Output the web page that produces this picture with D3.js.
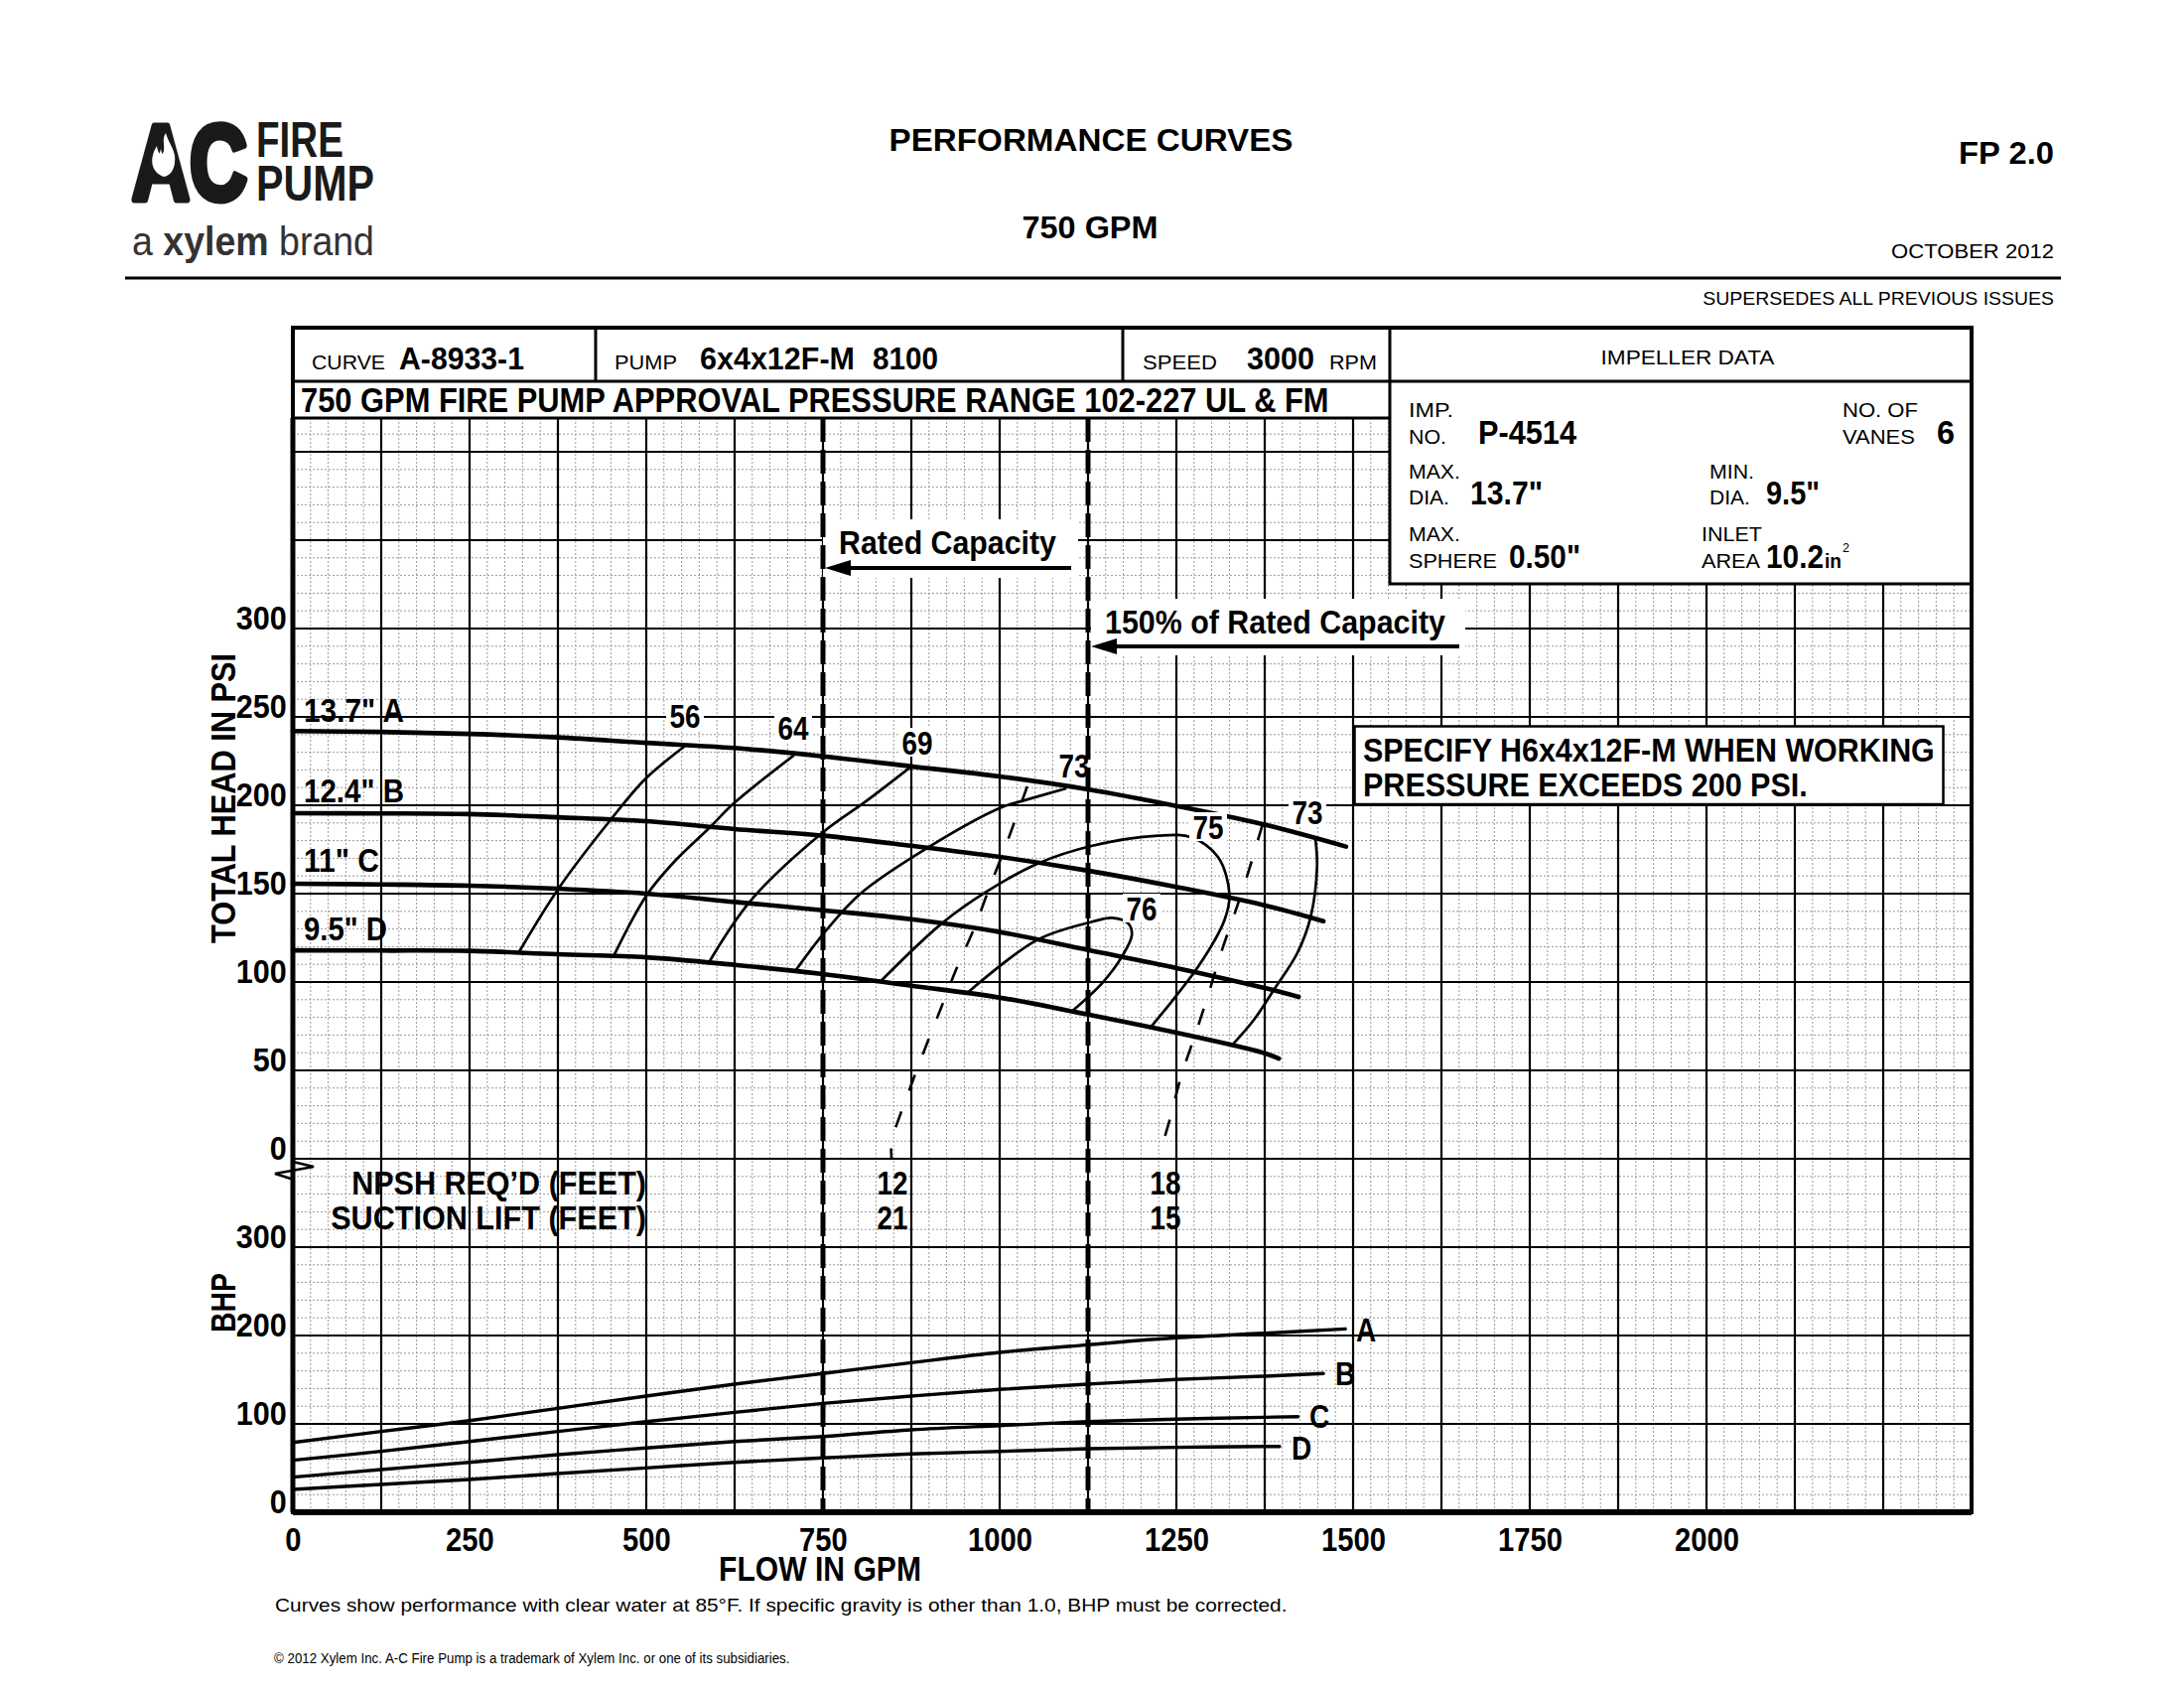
<!DOCTYPE html>
<html><head><meta charset="utf-8">
<script src="https://cdn.jsdelivr.net/npm/d3@7/dist/d3.min.js"></script>
<style>body{margin:0;background:#fff}svg{display:block}text{font-family:"Liberation Sans",Arial,Helvetica,sans-serif;fill:#000}</style>
</head><body>
<script>
// ---------------- DATA ----------------
const xTicks = [0,250,500,750,1000,1250,1500,1750,2000];
const headTicks = [0,50,100,150,200,250,300];
const bhpTicks = [0,100,200,300];
const ratedFlows = [750,1125];

// head curves [gpm, psi]
const headA = [[0,242],[125,241.5],[250,240.4],[375,238.4],[500,235.3],[625,232.4],[750,227.7],[875,222],[1000,216.3],[1125,209],[1250,199.6],[1375,189],[1490,176.6]];
const headB = [[0,195.5],[125,195.4],[250,195],[375,193.2],[500,191],[625,186.5],[750,182.8],[875,177.1],[1000,170.8],[1125,163],[1250,153.8],[1375,143.4],[1458,134.4]];
const headC = [[0,155.6],[125,155.2],[250,154.5],[375,152.8],[500,150],[625,145.3],[750,140.6],[875,135.5],[1000,128.3],[1125,118.1],[1250,107.9],[1375,96.6],[1423,91.6]];
const headD = [[0,117.9],[125,117.8],[250,117.6],[375,115.7],[500,114],[625,109.7],[750,104.5],[875,97.9],[1000,91.2],[1125,81.6],[1250,71.3],[1375,59.7],[1395,56.7]];
const headLabels = ['13.7" A','12.4" B','11" C','9.5" D'];

// efficiency iso-lines [gpm, psi]
const eff56 = [[553,233],[499,215],[450,192],[376,153],[320,117]];
const eff64 = [[708,228],[625,201.5],[590,187.5],[541,168.7],[501,149.4],[454,114.8]];
const eff69 = [[875,222],[810,202],[750,184.7],[648,146.2],[588,110.7]];
const eff73L = [[1093,209.4],[1037,203],[1002,198.7],[899,176.2],[803,150],[751,127.5],[712,106.9]];
const eff75 = [[833,101],[918,133.1],[981,151],[1053,166.9],[1131,177.1],[1224,182.8],[1271,181.9],[1309,170.6],[1325,150],[1318,135],[1281,108.8],[1215,75.1]];
const eff76 = [[957,94.8],[1053,123.8],[1131,134.1],[1159,136.3],[1182,133.1],[1187,126.6],[1173,114.4],[1145,99.4],[1105,84.4]];
const eff73R = [[1447,180],[1449,165],[1440,136.9],[1421,116.3],[1388,95.7],[1360,78.8],[1330,64.8]];
const effLabels = ["56","64","69","73","75","73","76"];

// NPSH dashed curves [gpm, psi]
const npsh12 = [[1039,210.7],[1008,176.4],[986,153.9],[965,131.5],[938,106.7],[916,84.3],[896,64],[875,42],[854,19],[847,10.7],[847,0]];
const npsh18 = [[1372,189.3],[1351,161.2],[1334,140.6],[1313,116.3],[1294.5,92],[1276,69.5],[1257,47],[1241,22.6],[1233,10.5],[1233,0]];
const npshLabels = [["12","21",847],["18","15",1233]];

// BHP curves [gpm, bhp]
const bhpA = [[0,79],[125,91.4],[250,103.7],[375,117.6],[500,131.5],[625,145],[750,157],[875,169.3],[1000,180.9],[1125,189.5],[1250,197.4],[1375,202.6],[1489,207.5]];
const bhpB = [[0,58.8],[125,68.9],[250,80.1],[375,91.4],[500,102.6],[625,113],[750,123.2],[875,131.5],[1000,139],[1125,145],[1250,150.2],[1375,154],[1458,157]];
const bhpC = [[0,39.7],[125,48.3],[250,56.5],[375,65.2],[500,72.7],[625,80],[750,85.7],[875,93.3],[1000,98.1],[1125,102.6],[1250,105.3],[1375,107.5],[1422,108.2]];
const bhpD = [[0,25.8],[125,31.5],[250,37.1],[375,43.8],[500,50.2],[625,56.5],[750,61.5],[875,66],[1000,68.9],[1125,71.9],[1250,73.4],[1375,74.5],[1396,74.5]];
const bhpLabels = ["A","B","C","D"];

// ---------------- DRAW ----------------
const W=2200,H=1700;
const svg=d3.select('body').append('svg').attr('width',W).attr('height',H);
svg.append('rect').attr('width',W).attr('height',H).attr('fill','#fff');

const L=295,R=1986,TOP=330,GT=421,B=1523;
const x=d3.scaleLinear().domain([0,2375]).range([L,R]);
const yH=d3.scaleLinear().domain([0,300]).range([1167,633]);
const yB=d3.scaleLinear().domain([0,400]).range([B,1167]);

// text helper: condensed via horizontal scale transform so boxes stay true
function T(g,xx,yy,s,o){
  o=o||{};
  const t=g.append('text').attr('x',0).attr('y',0).text(s)
    .attr('font-size',o.size||20).attr('font-weight',o.weight||'normal')
    .attr('text-anchor',o.anchor||'start');
  if(o.fill) t.style('fill',o.fill);
  let sx=1;
  const len=t.node().getComputedTextLength();
  if(o.w) sx=o.w/len; else if(o.sx) sx=o.sx;
  t.attr('transform',`translate(${xx},${yy})${o.rot?` rotate(${o.rot})`:''} scale(${sx},1)`);
  return t;
}

// grid
const grid=svg.append('g');
const minorX=d3.range(0,2375.1,25), majorX=d3.range(0,2375.1,125);
const yTopB=yB.invert(GT);
const minorY=d3.range(0,yTopB,20), majorY=d3.range(0,yTopB,100);
grid.selectAll('.mx').data(minorX.filter(v=>v%125!==0)).join('line')
  .attr('x1',d=>x(d)).attr('x2',d=>x(d)).attr('y1',GT).attr('y2',B)
  .attr('stroke','#9a9a9a').attr('stroke-width',1).attr('stroke-dasharray','2,2');
grid.selectAll('.my').data(minorY.filter(v=>v%100!==0)).join('line')
  .attr('y1',d=>yB(d)).attr('y2',d=>yB(d)).attr('x1',L).attr('x2',R)
  .attr('stroke','#9a9a9a').attr('stroke-width',1).attr('stroke-dasharray','2,2');
grid.selectAll('.Mx').data(majorX).join('line')
  .attr('x1',d=>x(d)).attr('x2',d=>x(d)).attr('y1',GT).attr('y2',B)
  .attr('stroke','#000').attr('stroke-width',2.2);
grid.selectAll('.My').data(majorY).join('line')
  .attr('y1',d=>yB(d)).attr('y2',d=>yB(d)).attr('x1',L).attr('x2',R)
  .attr('stroke','#000').attr('stroke-width',2.2);

// white label boxes for rated capacity annotations
svg.append('rect').attr('x',829).attr('y',523).attr('width',257).attr('height',59).attr('fill','#fff');
svg.append('rect').attr('x',x(1125)+3).attr('y',603).attr('width',377).attr('height',57).attr('fill','#fff');

const lineH=d3.line().x(d=>x(d[0])).y(d=>yH(d[1])).curve(d3.curveCatmullRom.alpha(0.5));
const lineB=d3.line().x(d=>x(d[0])).y(d=>yB(d[1])).curve(d3.curveCatmullRom.alpha(0.5));

const curves=svg.append('g').attr('fill','none').attr('stroke','#000').attr('stroke-linecap','round');
[headA,headB,headC,headD].forEach(c=>curves.append('path').attr('d',lineH(c)).attr('stroke-width',4.6));
[eff56,eff64,eff69,eff73L,eff75,eff76,eff73R].forEach(c=>curves.append('path').attr('d',lineH(c)).attr('stroke-width',2.7));
[npsh12,npsh18].forEach(c=>curves.append('path').attr('d',lineH(c)).attr('stroke-width',2.6).attr('stroke-dasharray','17,22').attr('stroke-linecap','butt'));
[bhpA,bhpB,bhpC,bhpD].forEach(c=>curves.append('path').attr('d',lineB(c)).attr('stroke-width',3.4));

// efficiency labels with white background
const effPos=[[690,733],[799,745],[924,760],[1082,783],[1217,845],[1317,830],[1150,927]];
const lab=svg.append('g');
effLabels.forEach((s,i)=>{
  const [px,py]=effPos[i];
  lab.append('rect').attr('x',px-19).attr('y',py-27).attr('width',38).attr('height',29).attr('fill','#fff');
  T(lab,px,py,s,{size:33,weight:'bold',anchor:'middle',w:31});
});

// rated capacity dashed verticals
svg.selectAll('.rated').data(ratedFlows).join('line')
  .attr('x1',d=>x(d)).attr('x2',d=>x(d)).attr('y1',GT).attr('y2',B)
  .attr('stroke','#000').attr('stroke-width',5).attr('stroke-dasharray','24,8');

// arrows
function arrow(x1,x2,y){
  svg.append('line').attr('x1',x1+20).attr('x2',x2).attr('y1',y).attr('y2',y).attr('stroke','#000').attr('stroke-width',4);
  svg.append('path').attr('d',`M${x1},${y} L${x1+26},${y-8} L${x1+26},${y+8} Z`).attr('fill','#000');
}
arrow(x(750)+2,1079,572);
arrow(x(1125)+3,1470,651);
T(svg,845,558,'Rated Capacity',{size:34,weight:'bold',w:219});
T(svg,1113,638,'150% of Rated Capacity',{size:34,weight:'bold',w:343});

// head curve labels
const hlY=[727,808,878,947], hlW=[101,101,76,84];
headLabels.forEach((s,i)=>T(svg,306,hlY[i],s,{size:33,weight:'bold',w:hlW[i]}));

// NPSH labels
npshLabels.forEach(([a,b,g])=>{
  T(svg,x(g)+1,1203,a,{size:33,weight:'bold',anchor:'middle',w:31});
  T(svg,x(g)+1,1238,b,{size:33,weight:'bold',anchor:'middle',w:31});
});
T(svg,651,1203,'NPSH REQ\u2019D (FEET)',{size:33,weight:'bold',anchor:'end',w:297});
T(svg,651,1238,'SUCTION LIFT (FEET)',{size:33,weight:'bold',anchor:'end',w:318});

// BHP labels
const bl=[[1366,1351],[1345,1395],[1319,1438],[1301,1470]];
bhpLabels.forEach((s,i)=>T(svg,bl[i][0],bl[i][1],s,{size:33,weight:'bold',sx:0.85}));

// SPECIFY box
svg.append('rect').attr('x',1364.5).attr('y',731.5).attr('width',593).attr('height',78.5).attr('fill','#fff').attr('stroke','#000').attr('stroke-width',2.5);
T(svg,1373,767,'SPECIFY H6x4x12F-M WHEN WORKING',{size:34,weight:'bold',w:576});
T(svg,1373,802,'PRESSURE EXCEEDS 200 PSI.',{size:34,weight:'bold',w:448});

// axes: tick labels via d3 axes
const axX=svg.append('g').attr('transform',`translate(0,${B})`)
  .call(d3.axisBottom(x).tickValues(xTicks).tickSize(0).tickPadding(15).tickFormat(d3.format('d')));
axX.select('.domain').remove();
axX.selectAll('text').attr('font-size',34).attr('font-weight','bold').style('font-family','"Liberation Sans",Arial,sans-serif').style('fill','#000')
  .attr('transform','scale(0.86,1)').attr('x',function(){return 0;});

function yAxis(scale,ticks){
  const a=svg.append('g').attr('transform',`translate(${L},0)`)
    .call(d3.axisLeft(scale).tickValues(ticks).tickSize(0).tickPadding(6).tickFormat(d3.format('d')));
  a.select('.domain').remove();
  a.selectAll('text').attr('dy','0').attr('font-size',34).attr('font-weight','bold').style('font-family','"Liberation Sans",Arial,sans-serif').style('fill','#000')
    .attr('x',-7).attr('transform','scale(0.9,1)');
}
yAxis(yH,headTicks);
yAxis(yB,bhpTicks);

// axis break zigzag
svg.append('polyline').attr('points','295,1170 316,1175 277,1182 296,1188').attr('fill','none').attr('stroke','#000').attr('stroke-width',2.5);

// axis titles
T(svg,237,804,'TOTAL HEAD IN PSI',{size:35,weight:'bold',anchor:'middle',rot:-90,w:292});
T(svg,237,1312,'BHP',{size:35,weight:'bold',anchor:'middle',rot:-90,w:60});
T(svg,826,1592,'FLOW IN GPM',{size:35,weight:'bold',anchor:'middle',w:204});

// header table (white)
svg.append('rect').attr('x',L).attr('y',TOP).attr('width',1400-L).attr('height',GT-TOP).attr('fill','#fff');
svg.append('rect').attr('x',1400).attr('y',TOP).attr('width',R-1400).attr('height',588-TOP).attr('fill','#fff').attr('stroke','#000').attr('stroke-width',3);
const hl=svg.append('g').attr('stroke','#000');
hl.append('line').attr('x1',L).attr('x2',R).attr('y1',384).attr('y2',384).attr('stroke-width',3);
hl.append('line').attr('x1',L).attr('x2',1400).attr('y1',GT).attr('y2',GT).attr('stroke-width',3);
[600,1131].forEach(v=>hl.append('line').attr('x1',v).attr('x2',v).attr('y1',TOP).attr('y2',384).attr('stroke-width',3));

// outer border
svg.append('rect').attr('x',L).attr('y',TOP).attr('width',R-L).attr('height',B-TOP).attr('fill','none').attr('stroke','#000').attr('stroke-width',4);
svg.append('line').attr('x1',L).attr('x2',R).attr('y1',B).attr('y2',B).attr('stroke','#000').attr('stroke-width',6);
svg.append('line').attr('x1',L).attr('x2',L).attr('y1',GT).attr('y2',B).attr('stroke','#000').attr('stroke-width',5);

T(svg,314,372,'CURVE',{size:20,w:74});
T(svg,402,372,'A-8933-1',{size:32,weight:'bold',w:126});
T(svg,619,372,'PUMP',{size:20,w:63});
T(svg,705,372,'6x4x12F-M',{size:32,weight:'bold',w:156});
T(svg,879,372,'8100',{size:32,weight:'bold',w:66});
T(svg,1151,372,'SPEED',{size:20,w:75});
T(svg,1256,372,'3000',{size:32,weight:'bold',w:68});
T(svg,1339,372,'RPM',{size:20,w:48});
T(svg,1700,367,'IMPELLER DATA',{size:21,anchor:'middle',w:175});
T(svg,303,415,'750 GPM FIRE PUMP APPROVAL PRESSURE RANGE 102-227 UL & FM',{size:35,weight:'bold',w:1036});

// impeller data
T(svg,1419,420,'IMP.',{size:20,w:45});
T(svg,1419,447,'NO.',{size:20,w:38});
T(svg,1489,447,'P-4514',{size:33,weight:'bold',w:99});
T(svg,1856,420,'NO. OF',{size:20,w:76});
T(svg,1856,447,'VANES',{size:20,w:73});
T(svg,1951,447,'6',{size:33,weight:'bold',w:18});
T(svg,1419,482,'MAX.',{size:20,w:52});
T(svg,1419,508,'DIA.',{size:20,w:41});
T(svg,1481,508,'13.7"',{size:33,weight:'bold',w:73});
T(svg,1722,482,'MIN.',{size:20,w:45});
T(svg,1722,508,'DIA.',{size:20,w:41});
T(svg,1779,508,'9.5"',{size:33,weight:'bold',w:54});
T(svg,1419,545,'MAX.',{size:20,w:52});
T(svg,1419,572,'SPHERE',{size:20,w:89});
T(svg,1520,572,'0.50"',{size:33,weight:'bold',w:72});
T(svg,1714,545,'INLET',{size:20,w:61});
T(svg,1714,572,'AREA',{size:20,w:59});
T(svg,1779,572,'10.2',{size:33,weight:'bold',w:58});
T(svg,1838,572,'in',{size:20,weight:'bold',w:17});
T(svg,1856,556,'2',{size:13,w:7});

// page header
T(svg,1099,152,'PERFORMANCE CURVES',{size:32,weight:'bold',anchor:'middle',w:407});
T(svg,1098,240,'750 GPM',{size:32,weight:'bold',anchor:'middle',w:137});
T(svg,2069,165,'FP 2.0',{size:32,weight:'bold',anchor:'end',w:96});
T(svg,2069,260,'OCTOBER 2012',{size:21,anchor:'end',w:164});
svg.append('line').attr('x1',126).attr('x2',2076).attr('y1',280).attr('y2',280).attr('stroke','#000').attr('stroke-width',3);
T(svg,2069,307,'SUPERSEDES ALL PREVIOUS ISSUES',{size:19,anchor:'end',w:354});

// logo
T(svg,133,201,'AC',{size:108,weight:'bold',w:116,fill:'#1a1a1a'})
  .style('stroke','#1a1a1a').style('stroke-width',7).style('stroke-linejoin','round');
svg.append('path').attr('d','M165,178 C152,173 150,160 158,147 C159,155 163,158 165,152 C166,145 163,140 167,134 C170,145 178,152 176,164 C175,172 171,177 165,178 Z').attr('fill','#fff');
T(svg,258,158,'FIRE',{size:50,weight:'bold',w:88,fill:'#1a1a1a'});
T(svg,258,202,'PUMP',{size:50,weight:'bold',w:119,fill:'#1a1a1a'});
const xb=svg.append('text').attr('x',0).attr('y',0).attr('font-size',40).style('fill','#333');
xb.append('tspan').attr('font-weight','300').text('a ');
xb.append('tspan').attr('font-weight','bold').text('xylem');
xb.append('tspan').attr('font-weight','300').text(' brand');
{const len=xb.node().getComputedTextLength(); xb.attr('transform',`translate(133,257) scale(${244/len},1)`);}

// footer
T(svg,277,1623,'Curves show performance with clear water at 85°F. If specific gravity is other than 1.0, BHP must be corrected.',{size:19,w:1020});
T(svg,276,1675,'© 2012 Xylem Inc. A-C Fire Pump is a trademark of Xylem Inc. or one of its subsidiaries.',{size:15,w:520});
</script>
</body></html>
